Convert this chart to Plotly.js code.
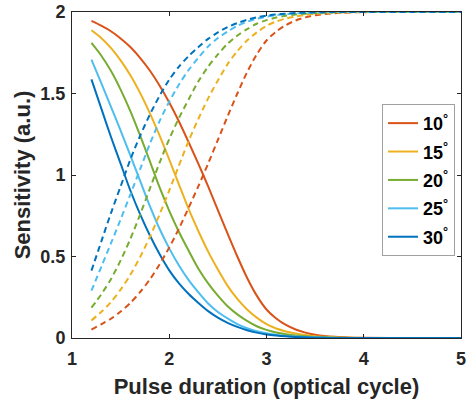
<!DOCTYPE html>
<html><head><meta charset="utf-8">
<script src="https://cdn.plot.ly/plotly-3.0.1.min.js"></script>
<style>html,body{margin:0;padding:0;background:#fff;}#chart{width:466px;height:399px;}</style>
</head><body><div id="chart"></div>
<script>
// Pulse duration (optical cycle)
const pulse = [1.2,1.3,1.4,1.5,1.6,1.7,1.8,1.9,2.0,2.1,2.2,2.3,2.4,2.5,2.6,2.7,2.8,2.9,3.0,3.1,3.2,3.3,3.4,3.5,3.6,3.7,3.8,3.9,4.0,4.5,5.0];
const angles = ['10', '15', '20', '25', '30'];
// solid curves (decreasing)
const solid10 = [1.945,1.916,1.882,1.838,1.785,1.719,1.641,1.549,1.445,1.328,1.200,1.068,0.930,0.785,0.640,0.500,0.370,0.260,0.175,0.120,0.080,0.052,0.033,0.020,0.012,0.007,0.004,0.002,0.001,0,0];
const solid15 = [1.888,1.841,1.780,1.703,1.612,1.504,1.380,1.243,1.095,0.941,0.790,0.655,0.530,0.420,0.320,0.240,0.175,0.125,0.085,0.058,0.040,0.027,0.018,0.011,0.007,0.004,0.002,0.001,0,0,0];
const solid20 = [1.810,1.733,1.639,1.524,1.392,1.243,1.085,0.925,0.780,0.650,0.535,0.425,0.335,0.260,0.195,0.145,0.105,0.072,0.050,0.034,0.023,0.015,0.010,0.006,0.004,0.002,0.001,0,0,0,0];
const solid25 = [1.708,1.565,1.420,1.272,1.120,0.965,0.810,0.670,0.550,0.445,0.355,0.280,0.212,0.160,0.120,0.085,0.060,0.042,0.029,0.020,0.013,0.009,0.006,0.004,0.002,0.001,0,0,0,0,0];
const solid30 = [1.587,1.410,1.235,1.070,0.905,0.760,0.630,0.515,0.415,0.335,0.270,0.215,0.165,0.125,0.093,0.068,0.048,0.033,0.022,0.015,0.010,0.006,0.004,0.002,0.001,0,0,0,0,0,0];
// dashed curves (increasing)
const dash10 = [0.052,0.084,0.118,0.162,0.215,0.281,0.359,0.451,0.555,0.672,0.800,0.932,1.070,1.215,1.360,1.500,1.630,1.740,1.825,1.880,1.920,1.948,1.967,1.980,1.988,1.993,1.996,1.998,1.999,2,2];
const dash15 = [0.108,0.159,0.220,0.297,0.388,0.496,0.620,0.757,0.905,1.059,1.210,1.345,1.470,1.580,1.680,1.760,1.825,1.875,1.915,1.942,1.960,1.973,1.982,1.989,1.993,1.996,1.998,1.999,2,2,2];
const dash20 = [0.186,0.267,0.361,0.476,0.608,0.757,0.915,1.075,1.220,1.350,1.465,1.575,1.665,1.740,1.805,1.855,1.895,1.928,1.950,1.966,1.977,1.985,1.990,1.994,1.996,1.998,1.999,2,2,2,2];
const dash25 = [0.290,0.435,0.580,0.728,0.880,1.035,1.190,1.330,1.450,1.555,1.645,1.720,1.788,1.840,1.880,1.915,1.940,1.958,1.971,1.980,1.987,1.991,1.994,1.996,1.998,1.999,2,2,2,2,2];
const dash30 = [0.413,0.590,0.765,0.930,1.095,1.240,1.370,1.485,1.585,1.665,1.730,1.785,1.835,1.875,1.907,1.932,1.952,1.967,1.978,1.985,1.990,1.994,1.996,1.998,1.999,2,2,2,2,2,2];

const colors = ['#D95319','#EDB120','#77AC30','#4DBEEE','#0072BD'];
const solids = [solid10, solid15, solid20, solid25, solid30];
const dashes = [dash10, dash15, dash20, dash25, dash30];

const traces = [];
for (let i = 0; i < 5; i++) {
  traces.push({x: pulse, y: solids[i], type: 'scatter', mode: 'lines',
    name: angles[i] + '<sup>°</sup>', legendgroup: 'g' + i,
    line: {color: colors[i], width: 2, shape: 'spline', smoothing: 0.8}});
}
for (let i = 0; i < 5; i++) {
  traces.push({x: pulse, y: dashes[i], type: 'scatter', mode: 'lines',
    showlegend: false, legendgroup: 'g' + i,
    line: {color: colors[i], width: 2, dash: '6px,4px', shape: 'spline', smoothing: 0.8}});
}

const font = {family: 'Liberation Sans, Arial, sans-serif', color: '#262626', weight: 'bold'};
const layout = {
  width: 466, height: 399,
  margin: {l: 72, r: 5, t: 12, b: 61},
  paper_bgcolor: '#fff', plot_bgcolor: '#fff',
  showlegend: true,
  legend: {x: 0.797, y: 0.718, xanchor: 'left', yanchor: 'top',
    bgcolor: '#fff', bordercolor: '#a0a0a0', borderwidth: 1,
    traceorder: 'grouped', tracegroupgap: 2,
    font: Object.assign({}, font, {size: 18, color: '#000'})},
  xaxis: {range: [1, 5], dtick: 1, tick0: 1, showgrid: false, zeroline: false,
    showline: true, mirror: 'ticks', linecolor: '#262626', linewidth: 1,
    ticks: 'inside', ticklen: 4, tickcolor: '#262626', ticklabelstandoff: 4,
    ticklabeloverflow: 'allow',
    tickfont: Object.assign({}, font, {size: 18}),
    title: {text: 'Pulse duration (optical cycle)', font: Object.assign({}, font, {size: 22}), standoff: 12}},
  yaxis: {range: [0, 2], dtick: 0.5, tick0: 0, showgrid: false, zeroline: false,
    showline: true, mirror: 'ticks', linecolor: '#262626', linewidth: 1,
    ticks: 'inside', ticklen: 4, tickcolor: '#262626', ticklabelstandoff: 2,
    ticklabeloverflow: 'allow',
    tickfont: Object.assign({}, font, {size: 18}),
    title: {text: 'Sensitivity (a.u.)', font: Object.assign({}, font, {size: 22}), standoff: 3}}
};
Plotly.newPlot('chart', traces, layout, {displayModeBar: false, staticPlot: true});
</script></body></html>
